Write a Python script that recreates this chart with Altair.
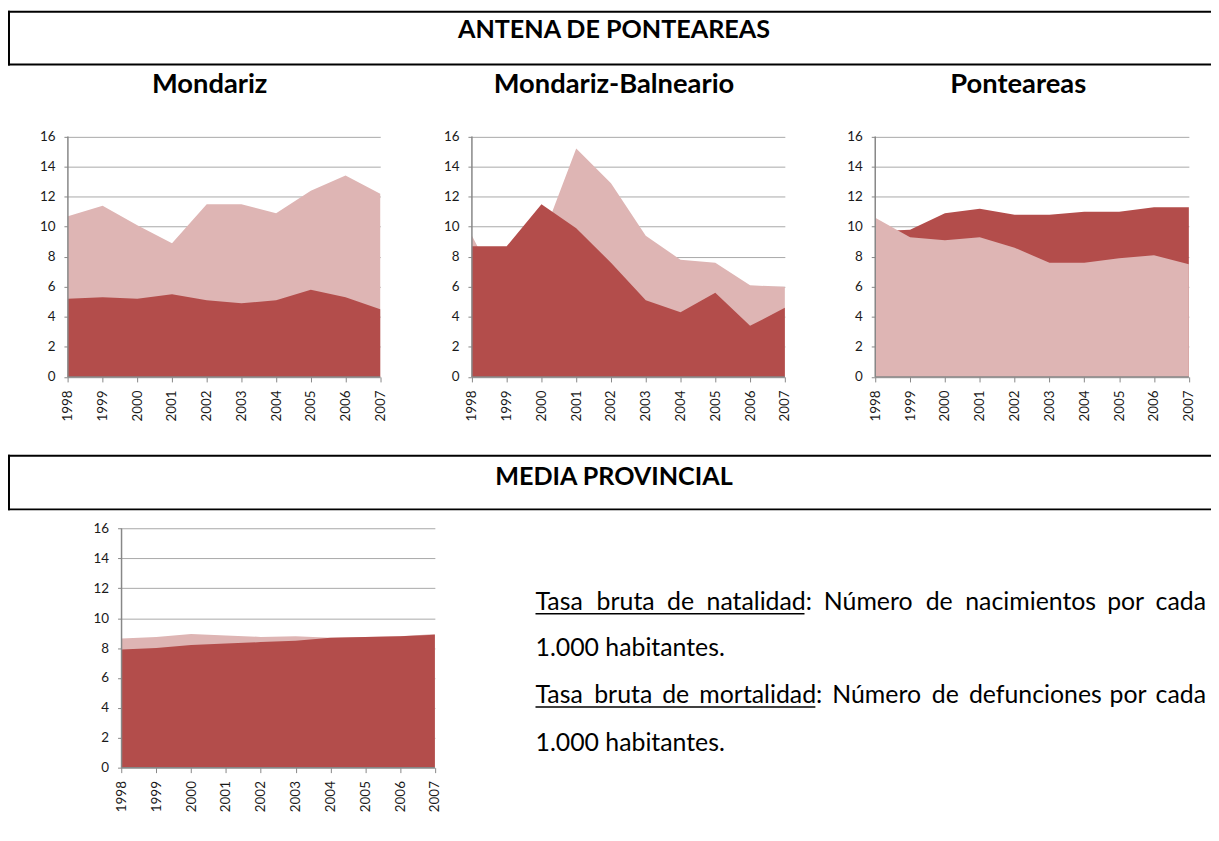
import altair as alt
import pandas as pd

# ---------------- data ----------------
years = [1998, 1999, 2000, 2001, 2002, 2003, 2004, 2005, 2006, 2007]

mondariz_nat = [5.2, 5.3, 5.2, 5.5, 5.1, 4.9, 5.1, 5.8, 5.3, 4.5]
mondariz_mort = [10.7, 11.4, 10.1, 8.9, 11.5, 11.5, 10.9, 12.4, 13.4, 12.2]

balneario_nat = [8.7, 8.7, 11.5, 9.9, 7.6, 5.1, 4.3, 5.6, 3.4, 4.6]
balneario_mort = [9.4, 5.0, 9.1, 15.2, 12.9, 9.4, 7.8, 7.6, 6.1, 6.0]

ponteareas_nat = [9.7, 9.8, 10.9, 11.2, 10.8, 10.8, 11.0, 11.0, 11.3, 11.3]
ponteareas_mort = [10.6, 9.3, 9.1, 9.3, 8.6, 7.6, 7.6, 7.9, 8.1, 7.5]

provincia_nat = [7.9, 8.0, 8.2, 8.3, 8.4, 8.5, 8.7, 8.75, 8.8, 8.9]
provincia_mort = [8.65, 8.75, 8.95, 8.85, 8.75, 8.8, 8.7, 8.75, 8.8, 8.95]

y_ticks = [0, 2, 4, 6, 8, 10, 12, 14, 16]

panel_titles = ["Mondariz", "Mondariz-Balneario", "Ponteareas"]
header_titles = ["ANTENA DE PONTEAREAS", "MEDIA PROVINCIAL"]

text_line1 = "Tasa bruta de natalidad: Número de nacimientos por cada"
text_line3 = "Tasa bruta de mortalidad: Número de defunciones por cada"
text_line2 = "1.000 habitantes."

# ---------------- style / layout ----------------
W, H = 1211, 815
DARK = "#B34D4B"
LIGHT = "#DEB5B4"
AXIS = "#878787"
GRID = "#A8A8A8"
FONT = "Lato"
LABEL_SIZE = 13.5

layers = []


def add_panel(nat, mort, mort_in_front, xr, yr):
    df = pd.DataFrame({"year": years, "nat": nat, "mort": mort})
    frame = pd.DataFrame({"x0": [years[0]], "x1": [years[-1]], "y0": [y_ticks[0]], "y1": [y_ticks[-1]]})

    def xs():
        return alt.Scale(domain=[years[0], years[-1]], range=xr, nice=False, zero=False)

    def ys():
        return alt.Scale(domain=[y_ticks[0], y_ticks[-1]], range=yr, nice=False, zero=True)

    xaxis = alt.Axis(
        orient="bottom", offset=yr[0] - H, values=years, format="d",
        labelAngle=-90, grid=False, domain=False, tickSize=5, tickColor=AXIS,
        labelPadding=8, labelFont=FONT, labelFontSize=LABEL_SIZE,
        labelColor="#1a1a1a", title=None, labelOverlap=False)
    yaxis = alt.Axis(
        orient="left", offset=-xr[0], values=y_ticks, format="d", grid=True,
        gridColor=GRID, gridWidth=1, domain=False, tickSize=4, tickColor=AXIS,
        labelPadding=9, labelFont=FONT, labelFontSize=LABEL_SIZE,
        labelColor="#1a1a1a", title=None)
    if mort_in_front:
        back_f, back_c, front_f, front_c = "nat", DARK, "mort", LIGHT
    else:
        back_f, back_c, front_f, front_c = "mort", LIGHT, "nat", DARK
    layers.append(alt.Chart(df).mark_area(color=back_c, opacity=1).encode(
        x=alt.X("year:Q", scale=xs(), axis=xaxis),
        y=alt.Y(back_f + ":Q", scale=ys(), axis=yaxis)))
    layers.append(alt.Chart(df).mark_area(color=front_c, opacity=1).encode(
        x=alt.X("year:Q", scale=xs(), axis=None),
        y=alt.Y(front_f + ":Q", scale=ys(), axis=None)))
    # axis lines drawn above the areas
    layers.append(alt.Chart(frame).mark_rule(color=AXIS, strokeWidth=1.5).encode(
        x=alt.X("x0:Q", scale=xs(), axis=None),
        y=alt.Y("y0:Q", scale=ys(), axis=None),
        y2="y1:Q"))
    layers.append(alt.Chart(frame).mark_rule(color=AXIS, strokeWidth=1.5).encode(
        x=alt.X("x0:Q", scale=xs(), axis=None),
        x2="x1:Q",
        y=alt.Y("y0:Q", scale=ys(), axis=None)))


one_row = pd.DataFrame({"k": [0]})


def text(t, x, y, size, bold=False, align="center"):
    return alt.Chart(one_row).mark_text(
        text=t, font=FONT, fontSize=size, fontWeight="bold" if bold else "normal",
        align=align, baseline="middle", color="#000000").encode(
        x=alt.value(x), y=alt.value(y))


def hline(x1, x2, y, w=2):
    return alt.Chart(one_row).mark_rule(color="#000000", strokeWidth=w, strokeCap="butt").encode(
        x=alt.value(x1), x2=alt.value(x2), y=alt.value(y))


def vline(x, y1, y2, w=2):
    return alt.Chart(one_row).mark_rule(color="#000000", strokeWidth=w, strokeCap="butt").encode(
        x=alt.value(x), y=alt.value(y1), y2=alt.value(y2))


# approximate Lato advance widths (em) used to justify the paragraph lines
LATO = {" ": .193, "T": .569, "N": .745, "a": .482, "s": .405, "b": .556, "r": .373,
        "u": .556, "t": .345, "d": .556, "e": .514, "n": .556, "l": .243, "i": .243,
        "o": .556, "m": .836, "f": .325, "c": .455, "p": .556, "ú": .556, ":": .255,
        "h": .556, ".": .24}


def word_w(w, size):
    return sum(LATO.get(ch, .55) for ch in w) * size


add_panel(mondariz_nat, mondariz_mort, False, [60.3, 374.7], [368.7, 126.7])
add_panel(balneario_nat, balneario_mort, False, [467, 782], [368.7, 126.7])
add_panel(ponteareas_nat, ponteareas_mort, True, [873, 1188.7], [368.7, 126.7])
add_panel(provincia_nat, provincia_mort, False, [114.3, 429.7], [762, 521.3])

deco = []
# header boxes (open on the right)
deco += [hline(0, W, 1), hline(0, W, 54.2), vline(1, 0, 55.2)]
deco += [hline(0, W, 448), hline(0, W, 502), vline(1, 447, 503)]
deco.append(text(header_titles[0], 610, 19, 25.3, bold=True))
deco.append(text(header_titles[1], 610, 469, 25.3, bold=True))
for t, cx in zip(panel_titles, [203, 610, 1017]):
    deco.append(text(t, cx, 75, 27.5, bold=True))

# explanatory paragraph: justified lines 1 and 3
FS = 25
X0, X1 = 531, 1206
for line, yc in [(text_line1, 595), (text_line3, 689)]:
    words = line.split(" ")
    widths = [word_w(w, FS) for w in words]
    gap = (X1 - X0 - sum(widths)) / (len(words) - 1)
    x = X0
    for i, (w, wd) in enumerate(zip(words, widths)):
        if i == len(words) - 1:
            deco.append(text(w, X1, yc, FS, align="right"))
        else:
            deco.append(text(w, x, yc, FS, align="left"))
        if i == 3:  # end of the underlined term (without the colon)
            deco.append(hline(X0, x + wd - LATO[":"] * FS, yc + 12, 1.5))
        x += wd + gap
deco.append(text(text_line2, X0, 642, FS, align="left"))
deco.append(text(text_line2, X0, 737, FS, align="left"))

chart = alt.layer(*layers, *deco).resolve_scale(
    x="independent", y="independent"
).properties(
    width=W, height=H, padding=0, background="#ffffff",
    autosize=alt.AutoSizeParams(type="none"),
).configure_view(stroke=None)

chart.save("out.html", embed_options={"renderer": "svg", "actions": False})
